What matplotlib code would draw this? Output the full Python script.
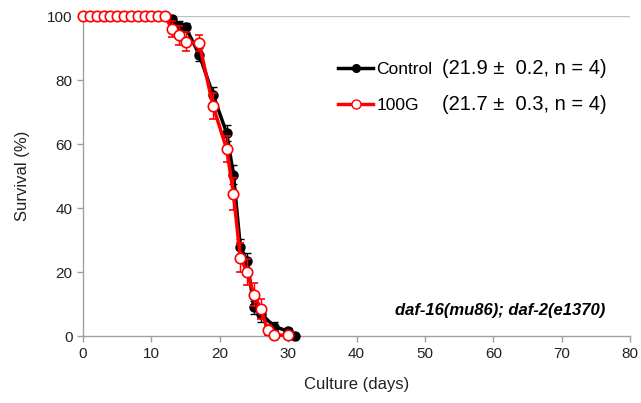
import matplotlib.pyplot as plt
import numpy as np
from matplotlib.lines import Line2D

plt.rcParams['font.family'] = ['Liberation Sans', 'DejaVu Sans']

# Survival data (days, %)
ctrl_days = [0, 1, 2, 3, 4, 5, 6, 7, 8, 9, 10, 11, 12, 13, 14, 15, 17, 19, 21, 22, 23, 24, 25, 26, 28, 30, 31]
ctrl_surv = [100, 100, 100, 100, 100, 100, 100, 100, 100, 100, 100, 100, 100,
             99, 97, 96.5, 88, 75.5, 63.5, 50.5, 28, 23.5, 9, 7, 3, 1.5, 0]
ctrl_err = [0, 0, 0, 0, 0, 0, 0, 0, 0, 0, 0, 0, 0,
            1, 1.5, 1.5, 2, 2.5, 2.5, 3, 2.5, 2.5, 2, 2.5, 1.5, 1, 0]

g_days = [0, 1, 2, 3, 4, 5, 6, 7, 8, 9, 10, 11, 12, 13, 14, 15, 17, 19, 21, 22, 23, 24, 25, 26, 27, 28, 30]
g_surv = [100, 100, 100, 100, 100, 100, 100, 100, 100, 100, 100, 100, 100,
          96, 94, 92, 91.5, 72, 58.5, 44.5, 24.5, 20, 13, 8.5, 2, 0.3, 0.3]
g_err = [0, 0, 0, 0, 0, 0, 0, 0, 0, 0, 0, 0, 0,
         2.5, 3, 3, 2.5, 4, 4, 5, 4.5, 4, 3.5, 3, 1.5, 0.5, 0.5]

labels = ["Control", "100G"]
stats = ["(21.9 \u00b1  0.2, n = 4)", "(21.7 \u00b1  0.3, n = 4)"]

fig = plt.figure(figsize=(6.41, 4.03), dpi=100)
ax = fig.add_axes([0.1295, 0.166, 0.8535, 0.794])

ax.axhline(100, color='#c0c0c0', lw=1, zorder=0)

ctrl = ax.errorbar(ctrl_days, ctrl_surv, yerr=ctrl_err, color='black', lw=2.5,
                   marker='o', markersize=6.5, markerfacecolor='black',
                   ecolor='black', elinewidth=1, capsize=3, zorder=3)
g = ax.errorbar(g_days, g_surv, yerr=g_err, color='red', lw=2.5,
                marker='o', markersize=7.5, markerfacecolor='white',
                markeredgecolor='red', markeredgewidth=1.2,
                ecolor='red', elinewidth=1, capsize=3, zorder=4)
for container in (ctrl, g):
    for artist in container.get_children():
        artist.set_clip_on(False)

ax.set_xlim(0, 80)
ax.set_ylim(0, 100)
ax.set_xticks(np.arange(0, 81, 10))
ax.set_yticks(np.arange(0, 101, 20))
for s in ['top', 'right']:
    ax.spines[s].set_visible(False)
for s in ['left', 'bottom']:
    ax.spines[s].set_color('#a0a0a0')
    ax.spines[s].set_linewidth(1)
ax.tick_params(colors='#a0a0a0', labelcolor='#222222', labelsize=11,
               length=4, width=1)
ax.set_xlabel("Culture (days)", fontsize=12, color='#222222', labelpad=12)
ax.set_ylabel("Survival (%)", fontsize=12, color='#222222', labelpad=12)

handles = [
    Line2D([], [], color='black', lw=2.5, marker='o', markersize=5.5,
           markerfacecolor='black'),
    Line2D([], [], color='red', lw=2.5, marker='o', markersize=6.5,
           markerfacecolor='white', markeredgecolor='red'),
]
ax.legend(handles, labels, loc='upper left', bbox_to_anchor=(0.438, 0.905),
          frameon=False, fontsize=12.5, handlelength=2.0, handletextpad=0.2,
          labelspacing=1.2)
ax.text(0.656, 0.835, stats[0], transform=ax.transAxes, fontsize=14.5,
        va='center', ha='left')
ax.text(0.656, 0.725, stats[1], transform=ax.transAxes, fontsize=14.5,
        va='center', ha='left')

ax.text(0.955, 0.08, "daf-16(mu86); daf-2(e1370)", transform=ax.transAxes,
        fontsize=12, fontweight='bold', fontstyle='italic', ha='right',
        va='center')

fig.savefig("out.png", dpi=100)
